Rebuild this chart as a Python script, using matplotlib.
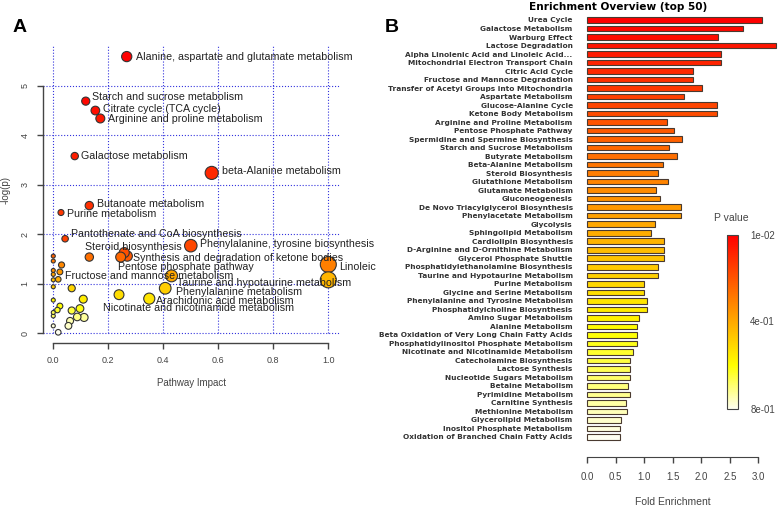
import numpy as np
import matplotlib
matplotlib.use("Agg")
import matplotlib.pyplot as plt
from matplotlib.colors import LinearSegmentedColormap, Normalize
from matplotlib.cm import ScalarMappable

plt.rcParams['font.family'] = ['Liberation Sans', 'DejaVu Sans']

# ---- panel A: pathway impact vs -log(p)
impact = [0.267, 0.118, 0.153, 0.171, 0.078, 0.576, 0.131, 0.028, 0.043, 0.50,
          0.258, 0.269, 0.245, 0.131, 1.0, 0.43, 0.024, 1.0, 0.407, 0.349, 0.239,
          0.0, 0.0, 0.03, 0.0, 0.0, 0.018, 0.0, 0.0, 0.067, 0.0, 0.109, 0.0, 0.0,
          0.024, 0.015, 0.067, 0.097, 0.087, 0.112, 0.061, 0.055, 0.0, 0.018]
logp = [5.59, 4.69, 4.50, 4.34, 3.58, 3.24, 2.58, 2.44, 1.91, 1.77,
        1.63, 1.56, 1.54, 1.54, 1.39, 1.16, 1.24, 1.08, 0.91, 0.70, 0.78,
        1.56, 1.46, 1.38, 1.27, 1.19, 1.09, 1.08, 0.94, 0.91, 0.67, 0.69, 0.42, 0.35,
        0.55, 0.47, 0.46, 0.50, 0.33, 0.32, 0.25, 0.15, 0.15, 0.02]

a_labels = ["Alanine, aspartate and glutamate metabolism", "Starch and sucrose metabolism",
            "Citrate cycle (TCA cycle)", "Arginine and proline metabolism",
            "Galactose metabolism", "beta-Alanine metabolism", "Butanoate metabolism",
            "Purine metabolism", "Pantothenate and CoA biosynthesis",
            "Phenylalanine, tyrosine biosynthesis", "Steroid biosynthesis",
            "Synthesis and degradation of ketone bodies", "Linoleic",
            "Pentose phosphate pathway", "Fructose and mannose metabolism",
            "Taurine and hypotaurine metabolism", "Phenylalanine metabolism",
            "Arachidonic acid metabolism", "Nicotinate and nicotinamide metabolism"]
# label anchor (left, middle) in data units
a_lab_x = [0.300, 0.140, 0.182, 0.200, 0.101, 0.615, 0.160, 0.049, 0.063, 0.533,
           0.115, 0.291, 1.039, 0.236, 0.043, 0.449, 0.445, 0.373, 0.182]
a_lab_y = [5.588, 4.78, 4.54, 4.33, 3.576, 3.28, 2.62, 2.41, 2.006, 1.80,
           1.743, 1.527, 1.345, 1.333, 1.164, 1.022, 0.828, 0.659, 0.505]

# ---- panel B: enrichment overview
pathways = ["Urea Cycle", "Galactose Metabolism", "Warburg Effect", "Lactose Degradation",
            "Alpha Linolenic Acid and Linoleic Acid...", "Mitochondrial Electron Transport Chain",
            "Citric Acid Cycle", "Fructose and Mannose Degradation",
            "Transfer of Acetyl Groups into Mitochondria", "Aspartate Metabolism",
            "Glucose-Alanine Cycle", "Ketone Body Metabolism", "Arginine and Proline Metabolism",
            "Pentose Phosphate Pathway", "Spermidine and Spermine Biosynthesis",
            "Starch and Sucrose Metabolism", "Butyrate Metabolism", "Beta-Alanine Metabolism",
            "Steroid Biosynthesis", "Glutathione Metabolism", "Glutamate Metabolism",
            "Gluconeogenesis", "De Novo Triacylglycerol Biosynthesis", "Phenylacetate Metabolism",
            "Glycolysis", "Sphingolipid Metabolism", "Cardiolipin Biosynthesis",
            "D-Arginine and D-Ornithine Metabolism", "Glycerol Phosphate Shuttle",
            "Phosphatidylethanolamine Biosynthesis", "Taurine and Hypotaurine Metabolism",
            "Purine Metabolism", "Glycine and Serine Metabolism",
            "Phenylalanine and Tyrosine Metabolism", "Phosphatidylcholine Biosynthesis",
            "Amino Sugar Metabolism", "Alanine Metabolism",
            "Beta Oxidation of Very Long Chain Fatty Acids",
            "Phosphatidylinositol Phosphate Metabolism", "Nicotinate and Nicotinamide Metabolism",
            "Catecholamine Biosynthesis", "Lactose Synthesis", "Nucleotide Sugars Metabolism",
            "Betaine Metabolism", "Pyrimidine Metabolism", "Carnitine Synthesis",
            "Methionine Metabolism", "Glycerolipid Metabolism", "Inositol Phosphate Metabolism",
            "Oxidation of Branched Chain Fatty Acids"]
fold = [3.07, 2.73, 2.30, 3.31, 2.35, 2.35, 1.86, 1.86, 2.02, 1.69,
        2.28, 2.28, 1.39, 1.53, 1.66, 1.44, 1.57, 1.32, 1.24, 1.41,
        1.21, 1.27, 1.65, 1.65, 1.19, 1.12, 1.35, 1.35, 1.35, 1.24,
        1.24, 1.00, 1.00, 1.05, 1.05, 0.90, 0.87, 0.87, 0.87, 0.81,
        0.75, 0.75, 0.75, 0.71, 0.75, 0.68, 0.69, 0.60, 0.58, 0.58]
cbar_ticks = [0.01, 0.4, 0.8]
cbar_ticklabels = ["1e-02", "4e-01", "8e-01"]

heat = LinearSegmentedColormap.from_list("heat", [(0, "#FF0000"), (0.75, "#FFFF00"), (1, "#FFFFF2")])

W, H = 778, 508
fig = plt.figure(figsize=(W / 100, H / 100), dpi=100)

def box(l, t, r, b):
    return [l / W, 1 - b / H, (r - l) / W, (b - t) / H]

axis_col = "#444444"

# ---------------- A
ax = fig.add_axes(box(42.7, 45, 340, 342.7))
ax.set_xlim(-0.0385, 1.0425)
ax.set_ylim(-0.19, 5.824)
for v in np.arange(0, 1.01, 0.2):
    ax.plot([v, v], [0, 5.824], ls=":", color="#3333dd", lw=0.8, zorder=0)
for v in range(6):
    ax.plot([-0.0385, 1.0425], [v, v], ls=":", color="#3333dd", lw=0.8, zorder=0)

imp = np.array(impact)
lp = np.array(logp)
order = np.argsort(-lp)
rank = np.empty(len(lp))
rank[order] = np.arange(len(lp))
cols = heat(rank / (len(lp) - 1))
diam = 4 + 12 * np.sqrt(imp)
sizes = (diam * 0.72) ** 2
draw = np.argsort(diam)[::-1]
ax.scatter(imp[draw], lp[draw], s=sizes[draw], c=cols[draw], edgecolors="#333333",
           linewidths=0.8, zorder=3)
for name, x, y in zip(a_labels, a_lab_x, a_lab_y):
    ax.text(x, y, name, fontsize=7.7, color="#222222", ha="left", va="center", zorder=4)

for s in ["top", "right"]:
    ax.spines[s].set_visible(False)
ax.spines["left"].set_bounds(0, 5)
ax.spines["bottom"].set_bounds(0, 1)
for s in ["left", "bottom"]:
    ax.spines[s].set_color(axis_col)
    ax.spines[s].set_linewidth(1.0)
ax.set_xticks(np.arange(0, 1.01, 0.2))
ax.set_xticklabels(["0.0", "0.2", "0.4", "0.6", "0.8", "1.0"])
ax.set_yticks(range(6))
ax.set_yticklabels([str(v) for v in range(6)], rotation=90, va="center")
ax.tick_params(colors=axis_col, labelcolor="#444444", labelsize=6.5, length=4.5, width=1.0, pad=5)
fig.text(191.4 / W, 1 - 382.7 / H, "Pathway Impact", fontsize=7, color="#444444", ha="center", va="center")
fig.text(6 / W, 1 - 190 / H, "-log(p)", fontsize=7, color="#444444", ha="center", va="center", rotation=90)
fig.text(20 / W, 1 - 27 / H, "A", fontsize=14, fontweight="bold", ha="center", va="center")

# ---------------- B
bx = fig.add_axes(box(583, 12, 778, 457.3))
ypos = np.arange(len(fold))
bcols = heat(ypos / (len(fold) - 1))
bx.barh(ypos, fold, height=0.65, color=bcols, edgecolor="#4a3a30", linewidth=0.8)
bx.set_xlim(-0.075, 3.346)
bx.set_ylim(51.39, -0.94)
bx.set_yticks(ypos)
bx.set_yticklabels(pathways, fontsize=5.3, fontweight="bold", color="#333333", family="DejaVu Sans")
bx.tick_params(axis="y", length=0, pad=7.4)
for s in ["top", "right", "left"]:
    bx.spines[s].set_visible(False)
bx.spines["bottom"].set_bounds(0, 3)
bx.spines["bottom"].set_color(axis_col)
bx.set_xticks(np.arange(0, 3.01, 0.5))
bx.set_xticklabels(["0.0", "0.5", "1.0", "1.5", "2.0", "2.5", "3.0"])
bx.tick_params(axis="x", colors=axis_col, labelcolor="#444444", labelsize=7, length=4.5, width=1.0, pad=6)
fig.text(672.8 / W, 1 - 502 / H, "Fold Enrichment", fontsize=7.5, color="#444444", ha="center", va="center")
fig.text(618 / W, 1 - 7 / H, "Enrichment Overview (top 50)", fontsize=7.6, fontweight="bold",
         family="DejaVu Sans", ha="center", va="center")
fig.text(392 / W, 1 - 27 / H, "B", fontsize=14, fontweight="bold", ha="center", va="center")

cax = fig.add_axes(box(727.3, 235, 737.7, 409.3))
sm = ScalarMappable(norm=Normalize(0.01, 0.8), cmap=heat)
cb = fig.colorbar(sm, cax=cax)
cb.ax.invert_yaxis()
cb.set_ticks(cbar_ticks)
cb.set_ticklabels(cbar_ticklabels)
cb.ax.tick_params(length=0, labelsize=7, labelcolor="#444444", pad=9)
cb.outline.set_edgecolor("#444444")
cb.outline.set_linewidth(0.8)
fig.text(731.7 / W, 1 - 218 / H, "P value", fontsize=7.5, color="#444444", ha="center", va="center")

fig.savefig("out.png", dpi=100)
